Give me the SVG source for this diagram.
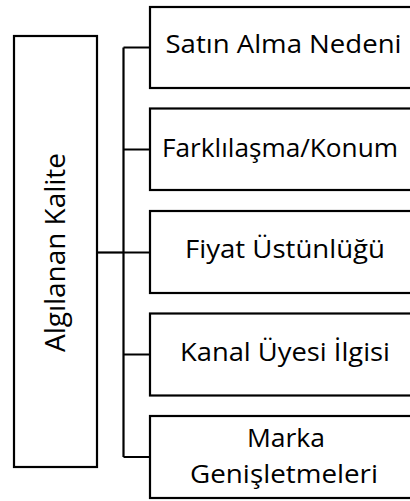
<svg xmlns="http://www.w3.org/2000/svg" width="410" height="501" viewBox="0 0 410 501">
  <style>
    .box { fill: none; stroke: #000; stroke-width: 2.2; }
    .wire { fill: none; stroke: #000; stroke-width: 2.2; }
    .lbl { font-family: "Open Sans", "Noto Sans", "DejaVu Sans", sans-serif; font-size: 25px; fill: #000; text-anchor: middle; }
    .root { font-family: "Open Sans", "Liberation Sans", sans-serif; font-size: 27px; fill: #000; text-anchor: middle; }
  </style>
  <rect width="410" height="501" fill="#fff"/>

  <!-- connectors: trunk from the root box and the vertical bus with its branches -->
  <g id="connectors">
    <path class="wire" d="M97 252.5 H123.5"/>
    <path class="wire" d="M123.5 47.5 V457 M123.5 47.5 H150 M123.5 149.5 H150 M123.5 252.5 H150 M123.5 354.5 H150 M123.5 457 H150"/>
  </g>

  <g id="root">
    <rect class="box" x="14" y="36" width="83" height="431"/>
    <text class="root" transform="translate(65 252.5) rotate(-90)" textLength="199" lengthAdjust="spacingAndGlyphs">Algılanan Kalite</text>
  </g>

  <g id="satin-alma">
    <rect class="box" x="150" y="7" width="272" height="81"/>
    <text class="lbl" x="283.5" y="53" textLength="236" lengthAdjust="spacingAndGlyphs">Satın Alma Nedeni</text>
  </g>

  <g id="farklilasma">
    <rect class="box" x="150" y="108.5" width="272" height="81.5"/>
    <text class="lbl" x="280" y="156.5" textLength="236" lengthAdjust="spacingAndGlyphs">Farklılaşma/Konum</text>
  </g>

  <g id="fiyat">
    <rect class="box" x="150" y="211" width="272" height="82"/>
    <text class="lbl" x="285" y="258" textLength="200" lengthAdjust="spacingAndGlyphs">Fiyat Üstünlüğü</text>
  </g>

  <g id="kanal">
    <rect class="box" x="150" y="313.5" width="272" height="82"/>
    <text class="lbl" x="285" y="361" textLength="210" lengthAdjust="spacingAndGlyphs">Kanal Üyesi İlgisi</text>
  </g>

  <g id="marka">
    <rect class="box" x="150" y="416" width="272" height="82"/>
    <text class="lbl" x="286" y="447" textLength="78" lengthAdjust="spacingAndGlyphs">Marka</text>
    <text class="lbl" x="284" y="483" textLength="188" lengthAdjust="spacingAndGlyphs">Genişletmeleri</text>
  </g>
</svg>
